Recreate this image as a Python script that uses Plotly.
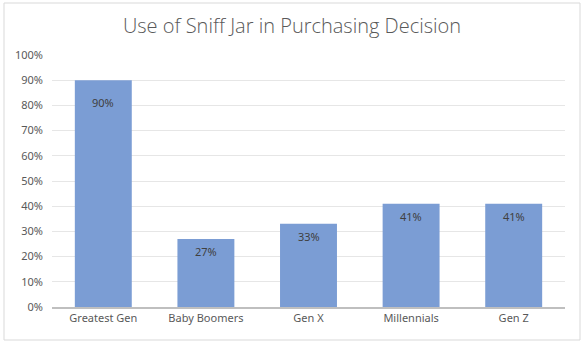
import plotly.graph_objects as go

categories = ["Greatest Gen", "Baby Boomers", "Gen X", "Millennials", "Gen Z"]
values = [0.90, 0.27, 0.33, 0.41, 0.41]
labels = ["90%", "27%", "33%", "41%", "41%"]
tick_vals = [i / 10 for i in range(11)]
tick_text = [f"{i*10}%" for i in range(11)]

label_shift = [-22, -13, -13, -13, -13]

FONT = "Noto Sans"
GREY = "#595959"

fig = go.Figure()
fig.add_trace(go.Bar(
    x=categories, y=values,
    marker=dict(color="#7b9dd4", line=dict(width=0)),
    hoverinfo="skip",
))

for c, v, t, s in zip(categories, values, labels, label_shift):
    fig.add_annotation(x=c, y=v, text=t, showarrow=False, yshift=s,
                       font=dict(family=FONT, size=11, color="#404040"),
                       xanchor="center", yanchor="middle")

L, R, T, B = 52, 21, 55, 39
W, H = 586, 346
pw, ph = W - L - R, H - T - B

def px_x(x):
    return (x - L) / pw

def px_y(y):
    return (H - B - y) / ph

fig.add_shape(type="rect", xref="paper", yref="paper",
              x0=px_x(4), x1=px_x(580), y0=px_y(340), y1=px_y(3),
              line=dict(color="#d9d9d9", width=1), fillcolor="rgba(0,0,0,0)",
              layer="below")

fig.update_layout(
    width=W, height=H,
    margin=dict(l=L, r=R, t=T, b=B),
    paper_bgcolor="white", plot_bgcolor="white",
    bargap=0.445,
    showlegend=False,
    title=dict(text="Use of Sniff Jar in Purchasing Decision",
               x=292 / W, xanchor="center", xref="container",
               y=1 - 26 / H, yanchor="middle", yref="container",
               font=dict(family="Open Sans", size=20, color=GREY, weight=300)),
    xaxis=dict(showgrid=False, showline=True, linecolor="#bfbfbf", linewidth=1.5,
               ticks="", tickfont=dict(family=FONT, size=11, color=GREY),
               fixedrange=True),
    yaxis=dict(range=[0, 1], tickvals=tick_vals, ticktext=tick_text,
               showgrid=True, gridcolor="#e6e6e6", gridwidth=1,
               zeroline=False, showline=False, ticks="",
               ticklabelstandoff=8,
               tickfont=dict(family=FONT, size=11, color=GREY),
               fixedrange=True),
)

fig.write_html("out.html", config={"displayModeBar": False})
